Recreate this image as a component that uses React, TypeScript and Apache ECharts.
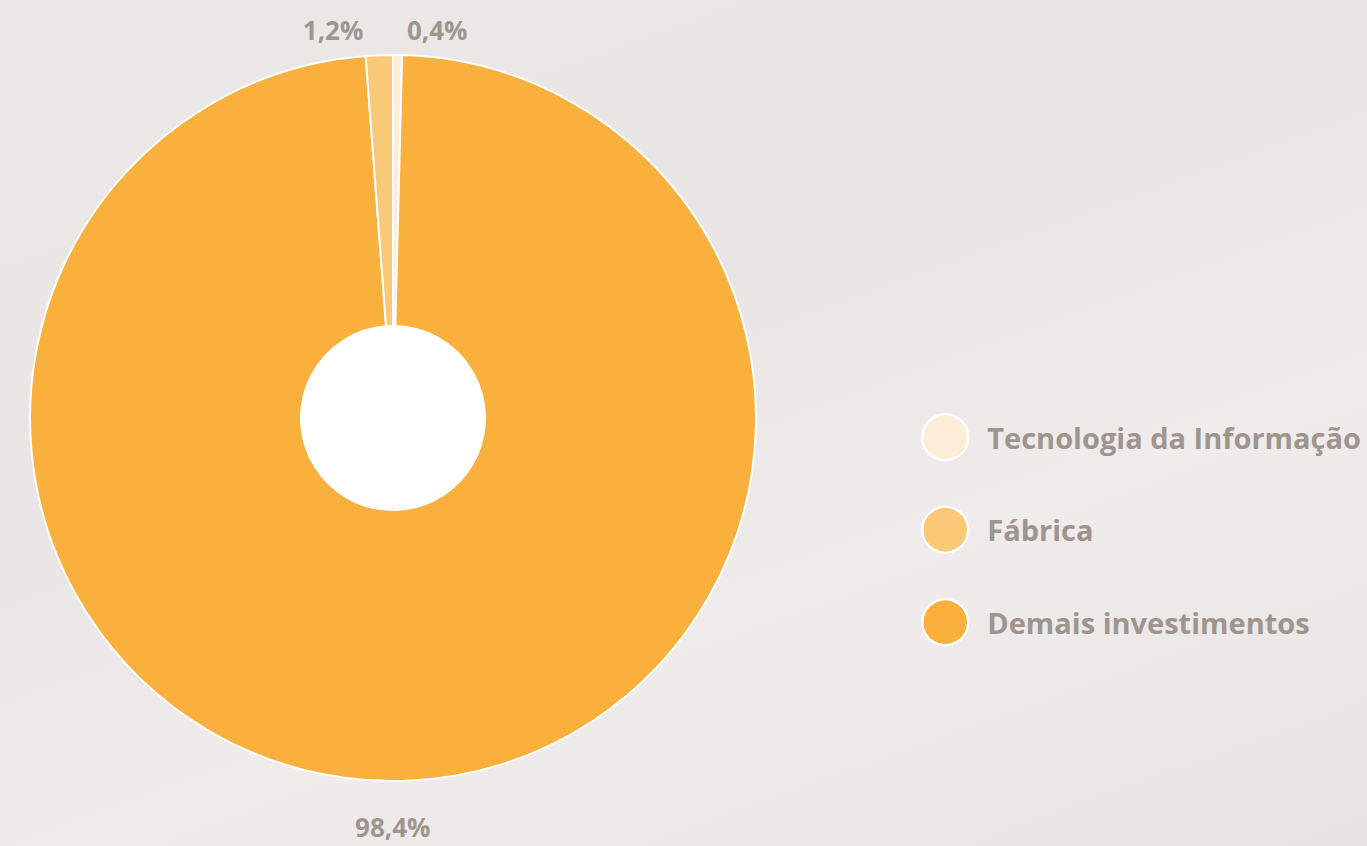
import React, { useEffect, useRef } from "react";
import * as echarts from "echarts";

const categories = ["Tecnologia da Informação", "Fábrica", "Demais investimentos"];
const values = [0.4, 1.2, 98.4];
const colors = ["#fdecd6", "#fac978", "#fab03c"];
// clockwise drawing order starting at the top
const drawOrder = [0, 2, 1];

export default function App() {
  const ref = useRef<HTMLDivElement>(null);
  useEffect(() => {
    if (!ref.current) return;
    const chart = echarts.init(ref.current, null, { renderer: "svg" });
    const textColor = "#9f958f";
    const font = "'Open Sans', Lato, sans-serif";
    chart.setOption({
      animation: false,
      backgroundColor: "transparent",
      legend: {
        data: categories,
        orient: "vertical",
        left: 916,
        top: 408,
        icon: "circle",
        itemWidth: 46,
        itemHeight: 46,
        itemGap: 44,
        itemStyle: { borderColor: "#ffffff", borderWidth: 2.5 },
        textStyle: {
          color: textColor,
          fontSize: 29,
          fontWeight: "bold",
          fontFamily: font,
          padding: [0, 0, 0, 14],
        },
        selectedMode: false,
      },
      series: [
        {
          type: "pie",
          center: [393, 418],
          radius: [92, 363],
          startAngle: 90,
          clockwise: true,
          data: drawOrder.map((i) => ({
            name: categories[i],
            value: values[i],
            itemStyle: { color: colors[i] },
          })),
          itemStyle: { borderColor: "#ffffff", borderWidth: 2 },
          label: {
            show: true,
            position: "outside",
            formatter: (p: any) => p.value.toFixed(1).replace(".", ",") + "%",
            color: textColor,
            fontSize: 26,
            fontWeight: "bold",
            fontFamily: font,
          },
          labelLine: { show: false, length: 25, length2: 4 },
          labelLayout: (p: any) =>
            p.dataIndex === 1
              ? { align: "center", dx: -19, dy: 21 }
              : p.dataIndex === 2
              ? { dx: -6 }
              : {},
          emphasis: { disabled: true },
          silent: true,
        },
        {
          type: "pie",
          center: [393, 418],
          radius: [0, 92],
          data: [{ name: "", value: 1, itemStyle: { color: "#ffffff" } }],
          label: { show: false },
          labelLine: { show: false },
          silent: true,
          emphasis: { disabled: true },
        },
      ],
    });
    return () => chart.dispose();
  }, []);
  return (
    <div
      style={{
        position: "absolute",
        left: 0,
        top: 0,
        width: 1367,
        height: 846,
        background:
          "linear-gradient(160deg, #ebe8e7 0%, #e9e5e4 40%, #efeceb 65%, #e8e4e3 100%)",
      }}
    >
      <div ref={ref} style={{ width: 1367, height: 846 }} />
    </div>
  );
}
